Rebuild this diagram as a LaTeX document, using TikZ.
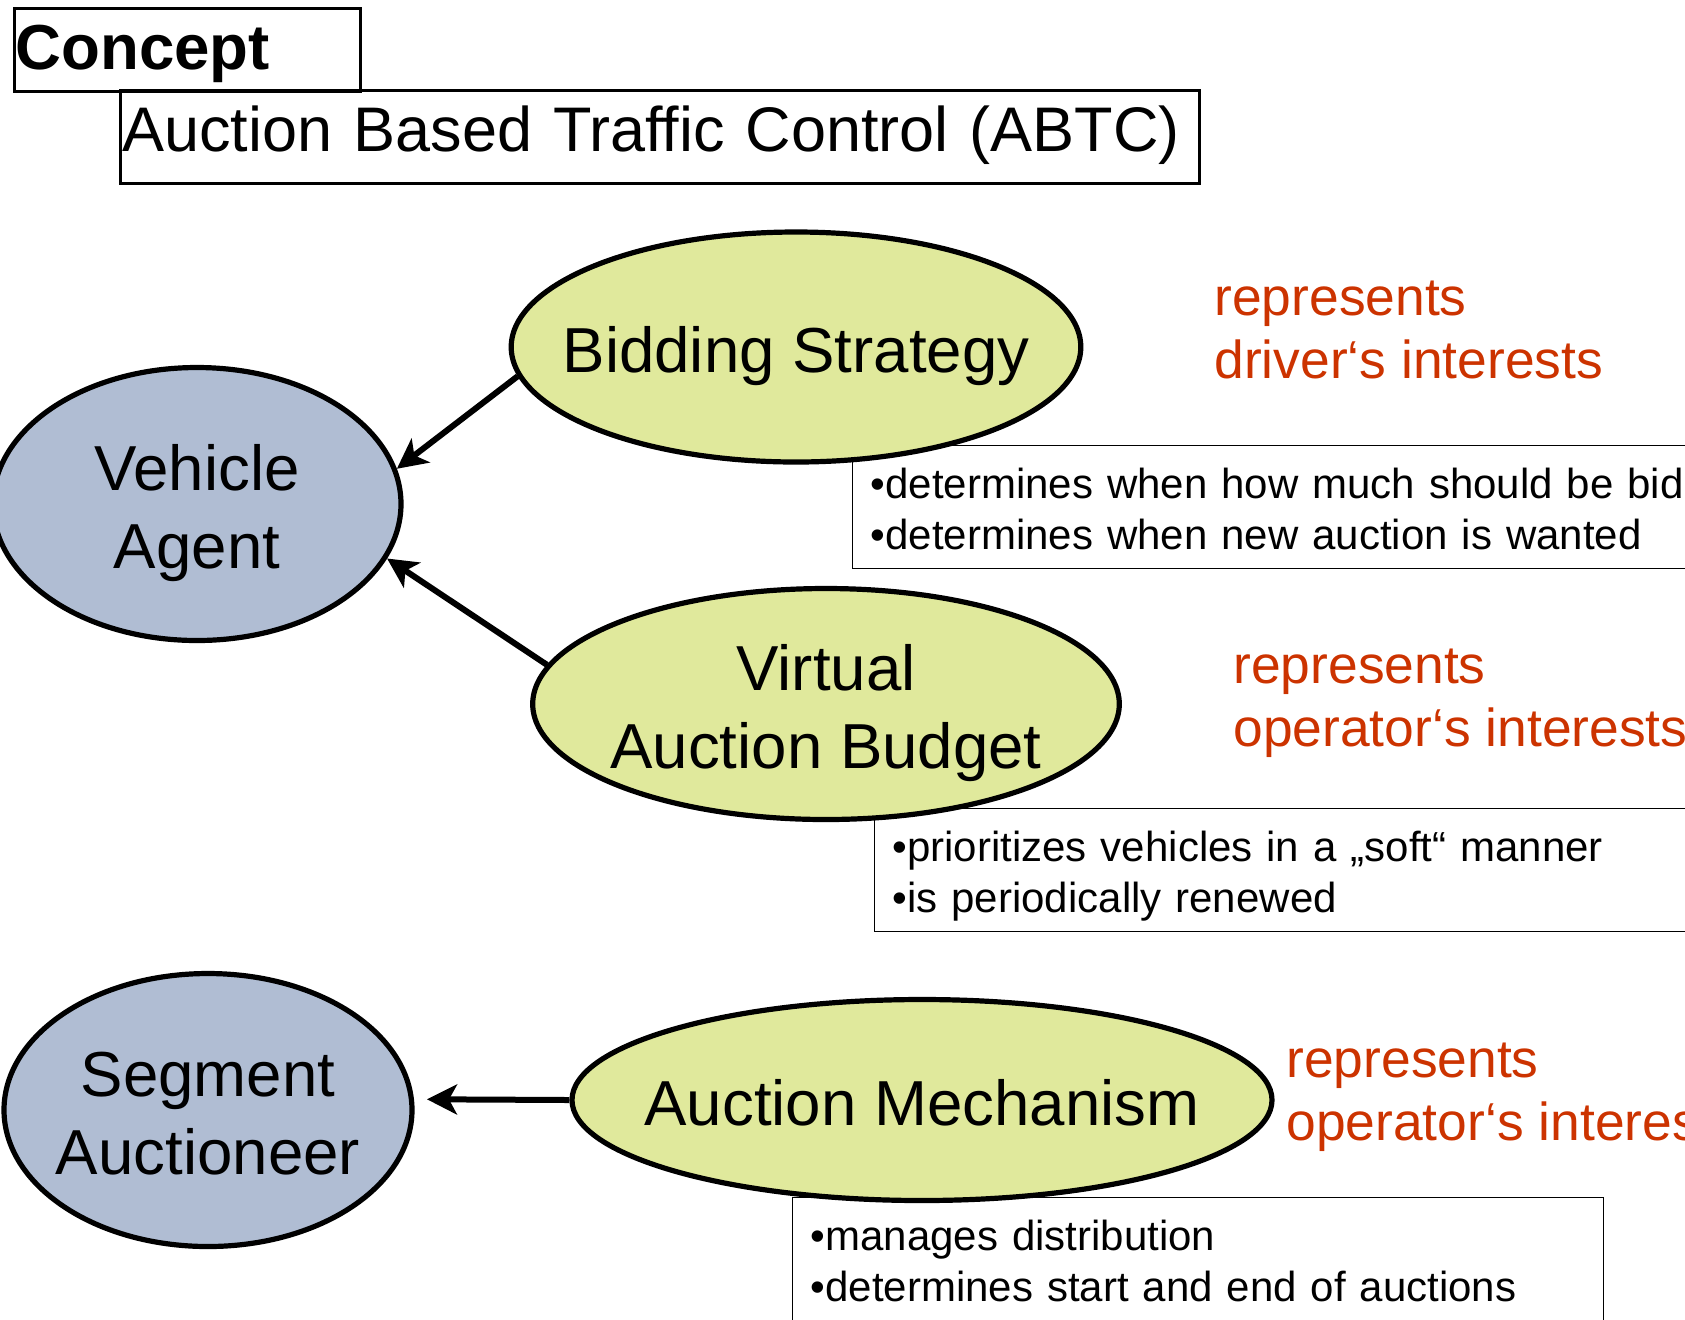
\documentclass[tikz,border=0pt]{standalone}
\usepackage{fontspec}
\setmainfont{Liberation Sans}
\usetikzlibrary{shapes.geometric,arrows.meta,positioning}
\definecolor{partgreen}{RGB}{224,233,156}
\definecolor{agentblue}{RGB}{176,189,211}
\definecolor{remarkred}{RGB}{204,51,0}
\tikzstyle{arrow} = [line width=3pt,-{Stealth[length=15pt,width=15pt,inset=4pt]}]
\tikzstyle{agent} = [shape=ellipse,draw,line width=2.6pt,fill=agentblue,inner xsep=-60pt,inner ysep=0pt,align=center,text height=33.5pt,text depth=8pt,font=\fontsize{31.8}{39}\selectfont]
\tikzstyle{part} = [agent,fill=partgreen]
\tikzstyle{twolines} = [text height=72.5pt]
\tikzstyle{note} = [draw,line width=0.6pt,anchor=north west,inner xsep=9pt,inner ysep=0pt,align=left,text height=26.5pt,text depth=34.9pt,font=\fontsize{21}{25.2}\selectfont]
\tikzstyle{remark} = [anchor=base west,inner sep=0pt,align=left,text=remarkred,font=\fontsize{26.7}{31.5}\selectfont]
\tikzstyle{titlebox} = [draw,line width=1.4pt,anchor=north west,inner ysep=0pt,align=left]

\begin{document}
\begin{tikzpicture}[x=0.5pt,y=-0.5pt]
    \useasboundingbox (0,0) rectangle (1685,1319);
    % title
    \node (abtc) [titlebox,inner xsep=1pt,text width=537.5pt,text height=30.5pt,text depth=15.9pt,font=\fontsize{31.5}{38}\selectfont] at (119,89) {Auction Based Traffic Control (ABTC)};
    \node (concept) [titlebox,inner xsep=0.5pt,text width=172pt,text height=30.6pt,text depth=10.8pt,font=\fontsize{31.8}{38}\selectfont\bfseries] at (13,7) {Concept};
    % notes under the ellipses
    \node (bidnote) [note,text width=420pt] at (852,445) {•determines when how much should be bid\\•determines when new auction is wanted};
    \node (budnote) [note,text width=420pt] at (874,808) {•prioritizes vehicles in a „soft“ manner\\•is periodically renewed};
    \node (mechnote) [note,text width=387.4pt] at (792,1197) {•manages distribution\\•determines start and end of auctions};
    % the ellipses
    \node (veh) [agent,twolines,minimum width=204pt,minimum height=136.5pt] at (197,504) {Vehicle\\Agent};
    \node (bid) [part,minimum width=284.8pt,minimum height=115pt] at (796,347) {Bidding Strategy};
    \node (bud) [part,twolines,minimum width=293.3pt,minimum height=115.5pt] at (826,704) {Virtual\\Auction Budget};
    \node (seg) [agent,twolines,minimum width=204pt,minimum height=136.5pt] at (208,1110) {Segment\\Auctioneer};
    \node (mech) [part,minimum width=350pt,minimum height=100.5pt] at (922,1100) {Auction Mechanism};
    % whose interests
    \node (bidrem) [remark] at (1214,378) {represents\\driver‘s interests};
    \node (budrem) [remark] at (1233,746) {represents\\operator‘s interests};
    \node (mechrem) [remark] at (1286,1140) {represents\\operator‘s interests};
    % arrows
    \draw[arrow] (bid.186) -- (veh.10);
    \draw[arrow] (bud.172) -- (veh.344);
    \draw[arrow,shorten >=6.5pt] (mech.180) -- (seg.3);
\end{tikzpicture}
\end{document}
